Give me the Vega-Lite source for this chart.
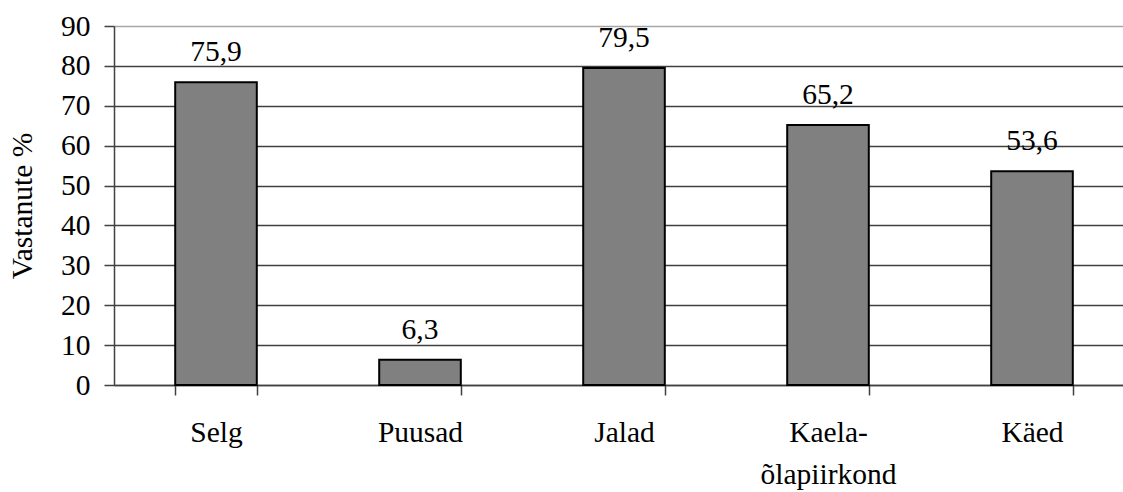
{
  "$schema": "https://vega.github.io/schema/vega-lite/v6.json",
  "width": 1009,
  "height": 359,
  "autosize": {"type": "none"},
  "padding": {"left": 114, "top": 26, "right": 0, "bottom": 107},
  "background": "white",
  "config": {
    "view": {"stroke": null},
    "font": "'Liberation Serif', 'Times New Roman', serif",
    "axis": {"labelFont": "'Liberation Serif', 'Times New Roman', serif", "titleFont": "'Liberation Serif', 'Times New Roman', serif", "labelColor": "black", "titleColor": "black"},
    "text": {"font": "'Liberation Serif', 'Times New Roman', serif"}
  },
  "data": {
    "values": [
      {"kategooria": "Selg", "protsent": 75.9, "silt": "75,9"},
      {"kategooria": "Puusad", "protsent": 6.3, "silt": "6,3"},
      {"kategooria": "Jalad", "protsent": 79.5, "silt": "79,5"},
      {"kategooria": "Kaela-õlapiirkond", "protsent": 65.2, "silt": "65,2"},
      {"kategooria": "Käed", "protsent": 53.6, "silt": "53,6"}
    ]
  },
  "encoding": {
    "x": {
      "field": "kategooria",
      "type": "nominal",
      "sort": null,
      "scale": {"range": [0, 1020], "paddingInner": 0.6, "paddingOuter": 0.3},
      "axis": {
        "title": null,
        "labelAngle": 0,
        "labelFontSize": 29.5,
        "labelPadding": 23,
        "labelBaseline": "top",
        "labelLineHeight": 42,
        "labelExpr": "datum.label == 'Kaela-õlapiirkond' ? ['Kaela-', 'õlapiirkond'] : datum.label",
        "tickBand": "extent",
        "tickSize": 10,
        "tickColor": "#404040",
        "tickWidth": 1.5,
        "domainColor": "#404040",
        "domainWidth": 1.5,
        "grid": false
      }
    },
    "y": {
      "field": "protsent",
      "type": "quantitative",
      "scale": {"domain": [0, 90], "nice": false},
      "axis": {
        "title": "Vastanute %",
        "titleFontSize": 29.5,
        "titleFontWeight": "normal",
        "titlePadding": 23,
        "values": [0, 10, 20, 30, 40, 50, 60, 70, 80, 90],
        "labelFontSize": 29.5,
        "labelPadding": 14,
        "tickSize": 10,
        "tickColor": "#404040",
        "tickWidth": 1.5,
        "domainColor": "#404040",
        "domainWidth": 1.5,
        "grid": true,
        "gridColor": {"condition": {"test": "datum.value == 90", "value": "#a6a6a6"}, "value": "#404040"},
        "gridWidth": 1.5
      }
    }
  },
  "layer": [
    {
      "mark": {"type": "bar", "color": "#808080", "stroke": "black", "strokeWidth": 2}
    },
    {
      "mark": {"type": "text", "baseline": "alphabetic", "dy": -21, "fontSize": 29.5, "color": "black", "font": "'Liberation Serif', 'Times New Roman', serif"},
      "encoding": {"text": {"field": "silt"}}
    }
  ]
}
